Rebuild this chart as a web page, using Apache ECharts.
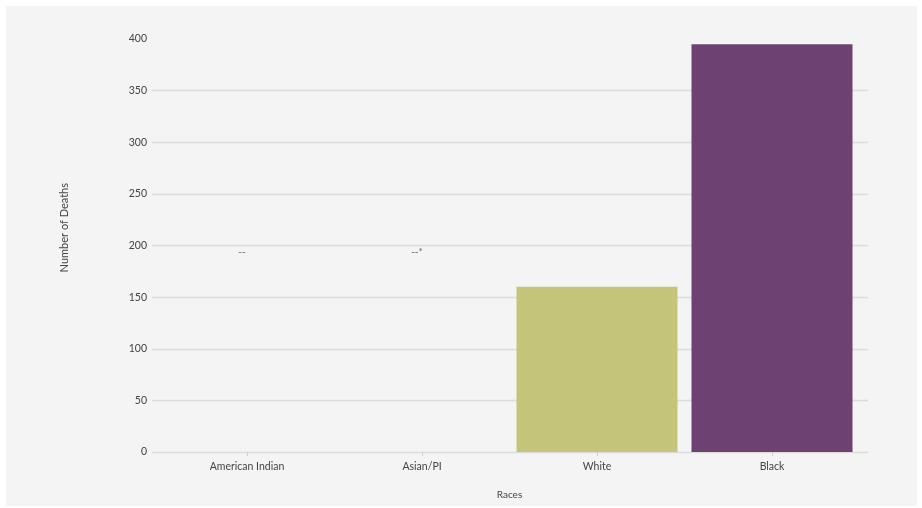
<!DOCTYPE html>
<html>
<head>
<meta charset="utf-8">
<script src="https://cdn.jsdelivr.net/npm/echarts@6/dist/echarts.min.js"></script>
<style>
html,body{margin:0;padding:0;background:#ffffff;}
#bg{position:absolute;left:6px;top:6px;width:911px;height:500px;background:#f4f4f4;}
#c{position:absolute;left:0;top:0;width:922px;height:508px;}
</style>
</head>
<body>
<div id="bg"></div>
<div id="c"></div>
<script>
const categories = ['American Indian', 'Asian/PI', 'White', 'Black'];
const deaths = [null, null, 160, 395];
const barColors = ['#c4c47b', '#c4c47b', '#c4c47b', '#6d4171'];
const suppressed = [['American Indian', 194, '--'], ['Asian/PI', 194, '--*']];
const yTicks = {min: 0, max: 400, interval: 50};

const chart = echarts.init(document.getElementById('c'));
const font = 'Lato, "Noto Sans", sans-serif';
const lineColors = [];
for (let v = yTicks.min; v <= yTicks.max; v += yTicks.interval) {
  lineColors.push(v === yTicks.max ? 'rgba(0,0,0,0)' : '#dcdcdc');
}
chart.setOption({
  animation: false,
  backgroundColor: 'transparent',
  textStyle: {fontFamily: font},
  grid: [
    {left: 152, right: 54, top: 39, bottom: 56},
    {left: 159.5, right: 62.5, top: 39, bottom: 56}
  ],
  xAxis: [
    {gridIndex: 0, type: 'value', show: false, min: 0, max: 1},
    {
      gridIndex: 1, type: 'category', data: categories,
      name: 'Races', nameLocation: 'middle', nameGap: 38,
      nameTextStyle: {fontFamily: font, fontSize: 10, color: '#444'},
      axisLine: {show: false},
      axisTick: {show: true, alignWithLabel: true, length: 4, lineStyle: {color: '#cfcfcf'}},
      axisLabel: {fontFamily: font, fontSize: 10.5, color: '#444', margin: 9}
    }
  ],
  yAxis: [
    {
      gridIndex: 0, type: 'value', min: yTicks.min, max: yTicks.max, interval: yTicks.interval,
      axisLine: {show: false}, axisTick: {show: false},
      axisLabel: {fontFamily: font, fontSize: 10.5, color: '#444', margin: 5},
      splitLine: {show: true, lineStyle: {color: lineColors, width: 1.3}}
    },
    {gridIndex: 1, type: 'value', min: yTicks.min, max: yTicks.max, show: false, splitLine: {show: false}}
  ],
  graphic: [{
    type: 'text', left: 59, top: 183, rotation: Math.PI / 2,
    style: {text: 'Number of Deaths', font: '11px ' + font, fill: '#444'}
  }],
  series: [
    {
      type: 'bar', xAxisIndex: 1, yAxisIndex: 1, barWidth: '92%',
      data: deaths.map((v, i) => ({value: v, itemStyle: {color: barColors[i]}}))
    },
    {
      type: 'scatter', xAxisIndex: 1, yAxisIndex: 1, symbolSize: 1,
      itemStyle: {color: 'rgba(0,0,0,0)'},
      data: suppressed.map(d => ({value: [d[0], d[1]], label: {formatter: d[2]}})),
      label: {show: true, position: 'inside', offset: [-5, 0], fontSize: 10, fontWeight: 'bold', color: '#666', fontFamily: font}
    }
  ]
});
</script>
</body>
</html>
